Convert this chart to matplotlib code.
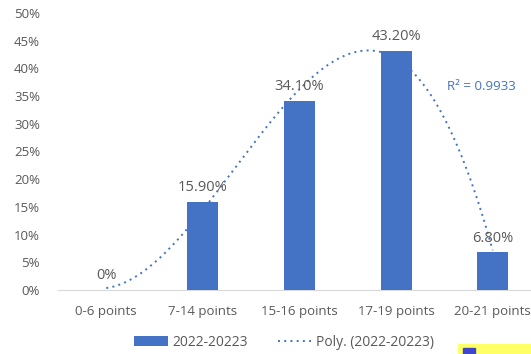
import numpy as np
import matplotlib.pyplot as plt
from matplotlib.patches import Rectangle

categories = ['0-6 points', '7-14 points', '15-16 points', '17-19 points', '20-21 points']
values = [0.0, 15.9, 34.1, 43.2, 6.8]
value_labels = ['0%', '15.90%', '34.10%', '43.20%', '6.80%']
series_name = '2022-20223'
r2_text = 'R² = 0.9933'

blue = '#4472C4'
grey = '#595959'

plt.rcParams['font.family'] = ['Open Sans', 'DejaVu Sans']

fig = plt.figure(figsize=(5.31, 3.54), dpi=100)
ax = fig.add_axes([58/531, 64/354, 483/531, 277/354])

x = np.arange(len(categories))
bars = ax.bar(x, values, width=0.32, color=blue, zorder=3, label=series_name)

# polynomial trendline fitted to the data (like Excel's)
coef = np.polyfit(x, values, 3)
xs = np.linspace(0, 4, 200)
trend, = ax.plot(xs, np.polyval(coef, xs), ls=(0, (1, 2.2)), lw=1.4, color=blue, zorder=2,
                 label='Poly. (' + series_name + ')')

for xi, v, t in zip(x, values, value_labels):
    ax.text(xi, v + 1.2, t, ha='center', va='bottom', fontsize=10.5, color=grey, zorder=4)

ax.text(3.53, 36.8, r2_text, ha='left', va='center', fontsize=9.5, color=blue)

ax.set_xlim(-0.5, 4.5)
ax.set_ylim(0, 50)
ax.set_yticks(np.arange(0, 51, 5))
ax.set_yticklabels([f'{v}%' for v in range(0, 51, 5)])
ax.set_xticks(x)
ax.set_xticklabels(categories)
ax.tick_params(length=0, labelsize=9.5, labelcolor=grey)
ax.tick_params(axis='x', pad=11)
ax.tick_params(axis='y', pad=13)

for s in ['top', 'right', 'left']:
    ax.spines[s].set_visible(False)
ax.spines['bottom'].set_color('#D9D9D9')

fig.legend(handles=[bars, trend], loc='center', bbox_to_anchor=(284/531, 1 - 342/354),
           ncol=2, frameon=False, fontsize=10, labelcolor=grey, handlelength=2.4,
           columnspacing=2.2, handletextpad=0.3)

# clipped highlighted snippet at the lower right corner
fig.patches.append(Rectangle((458/531, 0), 80/531, 10/354, transform=fig.transFigure,
                             color='#FFFF66', zorder=0))
fig.patches.append(Rectangle((463/531, 0), 12/531, 6/354, transform=fig.transFigure,
                             color='#3F48CC', zorder=1))

fig.savefig('out.png', dpi=100)
